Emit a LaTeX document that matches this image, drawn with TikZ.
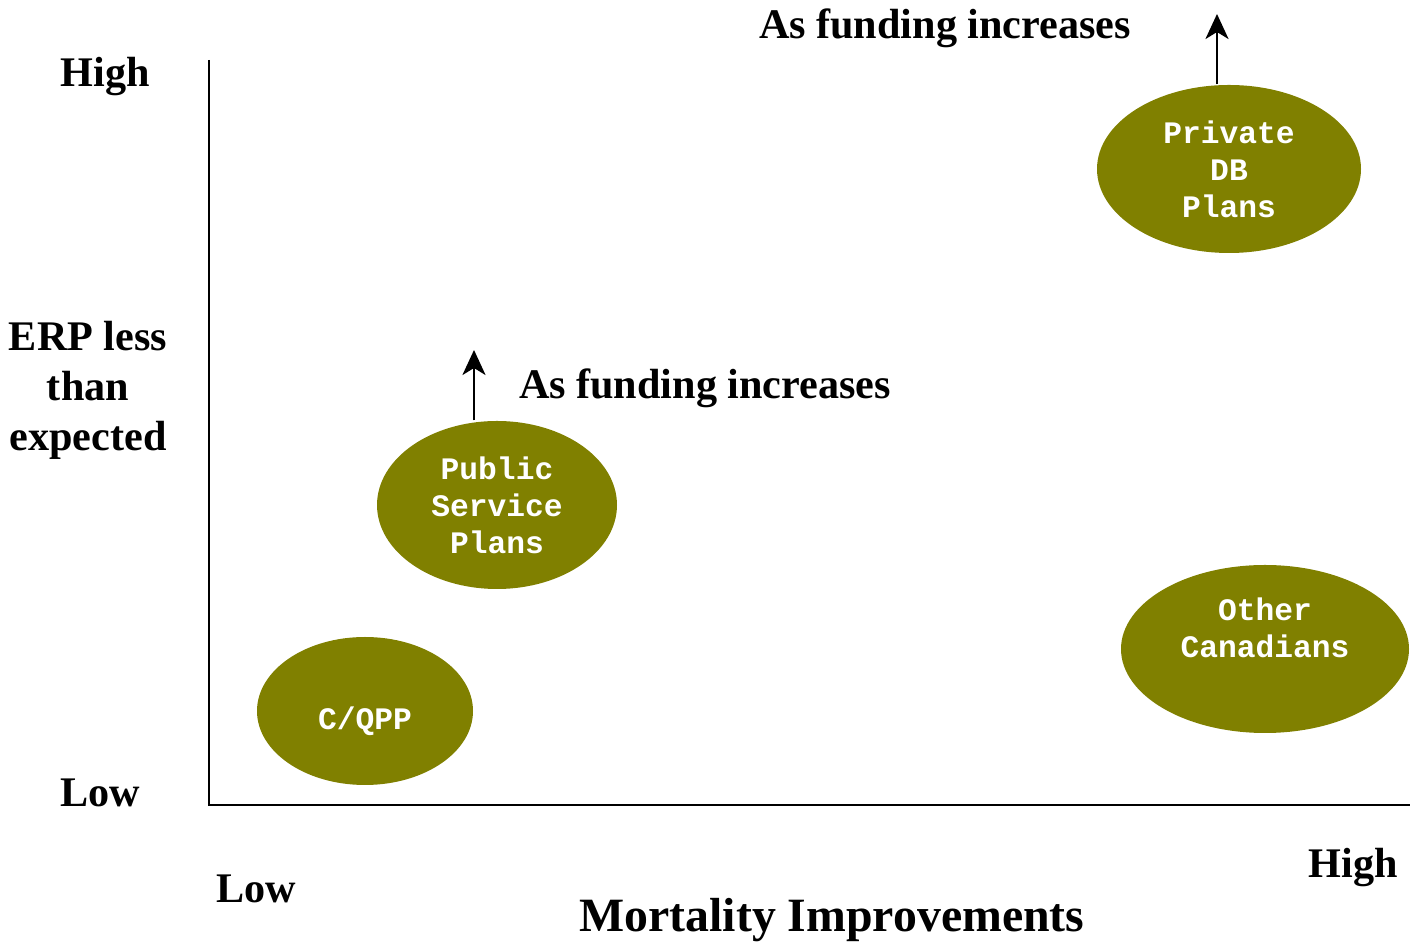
\documentclass[tikz,border=0pt]{standalone}
\usepackage{fontspec}
\setmainfont{Liberation Serif}
\setmonofont{Liberation Mono}
\usetikzlibrary{arrows.meta,shapes.geometric}

\definecolor{olive}{HTML}{808000}

\begin{document}
\begin{tikzpicture}[
		lbl/.style={font=\fontsize{12}{14.2}\selectfont\bfseries,inner sep=0pt},
		plan/.style={ellipse,fill=olive,text=white,align=center,inner sep=0pt,
			font=\fontsize{8.9}{10.5}\selectfont\ttfamily\bfseries},
		fund/.style={-{Stealth[length=2.5mm,width=2.3mm,inset=0.7mm]},line width=0.8pt}]
		\useasboundingbox (0,0) rectangle (14.14,9.44);
		% axes
		\coordinate (orig) at (2.09,1.39);
		\coordinate (ytop) at (2.09,8.84);
		\coordinate (xend) at (14.10,1.39);
		\draw[line width=0.8pt] (ytop) -- (orig) -- (xend);
		% axis labels
		\node[lbl] (yhigh) at (1.05,8.67) {High};
		\node[lbl] (ylow) at (1.00,1.51) {Low};
		\node[lbl,align=center] (ytitle) at (0.88,5.54) {ERP less\\than\\expected};
		\node[lbl] (xlow) at (2.56,0.55) {Low};
		\node[lbl] (xhigh) at (13.53,0.76) {High};
		\node[lbl,font=\fontsize{13.6}{16}\selectfont\bfseries] (xtitle) at (8.32,0.24) {Mortality Improvements};
		% the plan groups
		\node[plan,minimum width=2.64cm,minimum height=1.68cm] (priv) at (12.29,7.75) {Private\\DB\\Plans};
		\node[plan,minimum width=2.40cm,minimum height=1.68cm] (pub) at (4.97,4.39) {Public\\Service\\Plans};
		\node[plan,minimum width=2.16cm,minimum height=1.48cm,text height=0.44cm] (cqpp) at (3.65,2.33) {C/QPP};
		\node[plan,minimum width=2.88cm,minimum height=1.68cm,text depth=0.43cm] (other) at (12.65,2.95) {Other\\Canadians};
		% funding arrows
		\coordinate (privtip) at (12.17,9.30);
		\coordinate (pubtip) at (4.74,5.94);
		\draw[fund] (privtip |- priv.north) -- (privtip);
		\draw[fund] (pubtip |- pub.north) -- (pubtip);
		\node[lbl] (privfund) at (9.45,9.16) {As funding increases};
		\node[lbl] (pubfund) at (7.05,5.56) {As funding increases};
\end{tikzpicture}
\end{document}
